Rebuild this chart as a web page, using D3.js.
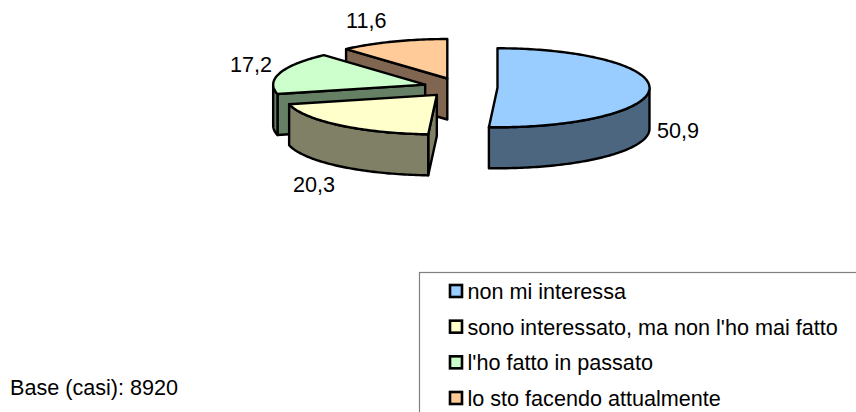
<!DOCTYPE html>
<html><head><meta charset="utf-8">
<script src="https://cdn.jsdelivr.net/npm/d3@7"></script>
<style>html,body{margin:0;padding:0;background:#fff;overflow:hidden}svg{display:block}text{font-family:"Liberation Sans",Arial,sans-serif;fill:#000}</style>
</head><body><div id="c"></div>
<script>
const categories = ["non mi interessa","sono interessato, ma non l'ho mai fatto","l'ho fatto in passato","lo sto facendo attualmente"];
const values = [50.9,20.3,17.2,11.6];
const valueLabels = ["50,9","20,3","17,2","11,6"];
const topColors = ["#99CCFF","#FFFFCC","#CCFFCC","#FFCC99"];
const sideColors = ["#4D6680","#808066","#668066","#806650"];
const baseNote = "Base (casi): 8920";

const W=856,H=412, cx=460.5, cy=87.5, rx=152, ry=39.5, depth=41, explode=37, fs=21.6;
const labelPos=[[657,138],[293,192],[230,72],[346,28]];
const svg=d3.select("#c").append("svg").attr("width",W).attr("height",H);
const X=d3.scaleLinear().domain([-1,1]).range([-rx,rx]);
const Y=d3.scaleLinear().domain([-1,1]).range([-ry,ry]);
const arcs=d3.pie().sort(null).startAngle(0).endAngle(2*Math.PI)(values);
const line=d3.line();

arcs.slice().reverse().forEach(a=>{
  const i=a.index, mid=(a.startAngle+a.endAngle)/2;
  const ax=cx+X(Math.sin(mid)*explode/rx), ay=cy+Y(-Math.cos(mid)*explode/rx);
  const pt=t=>[ax+X(Math.sin(t)),ay+Y(-Math.cos(t))];
  const down=p=>[p[0],p[1]+depth];
  const g=svg.append("g").attr("stroke","#000").attr("stroke-width",2.4).attr("stroke-linejoin","round");
  const draw=(pts,fill)=>g.append("path").attr("d",line(pts)+"Z").attr("fill",fill);
  const rim=(t0,t1)=>{const n=Math.max(2,Math.ceil((t1-t0)/0.02));return d3.range(n+1).map(k=>pt(t0+(t1-t0)*k/n));};
  // radial cut faces
  if(Math.sin(a.startAngle)<-0.001){const p=pt(a.startAngle),o=[ax,ay];draw([o,p,down(p),down(o)],sideColors[i]);}
  if(Math.sin(a.endAngle)>0.001){const p=pt(a.endAngle),o=[ax,ay];draw([o,p,down(p),down(o)],sideColors[i]);}
  // outer wall: front half of the ellipse only
  const t0=Math.max(a.startAngle,Math.PI/2), t1=Math.min(a.endAngle,3*Math.PI/2);
  if(t1>t0){const r=rim(t0,t1);draw(r.concat(r.map(down).reverse()),sideColors[i]);}
  // top surface
  draw([[ax,ay]].concat(rim(a.startAngle,a.endAngle)),topColors[i]);
});

svg.selectAll("text.v").data(valueLabels).join("text").attr("class","v")
  .attr("x",(d,i)=>labelPos[i][0]).attr("y",(d,i)=>labelPos[i][1]).attr("font-size",fs).text(d=>d);

svg.append("rect").attr("x",419.5).attr("y",272.5).attr("width",460).attr("height",160)
  .attr("fill","#fff").attr("stroke","#808080").attr("stroke-width",1.2);
const ly=d3.scalePoint().domain(categories).range([291,398]);
const lg=svg.selectAll("g.l").data(categories).join("g").attr("class","l").attr("transform",d=>`translate(0,${ly(d)})`);
lg.append("rect").attr("x",450).attr("y",-6).attr("width",12).attr("height",12)
  .attr("fill",(d,i)=>topColors[i]).attr("stroke","#000").attr("stroke-width",2.6);
lg.append("text").attr("x",467.5).attr("y",8).attr("font-size",fs).text(d=>d);
svg.append("text").attr("x",10).attr("y",395).attr("font-size",fs).text(baseNote);
</script></body></html>
